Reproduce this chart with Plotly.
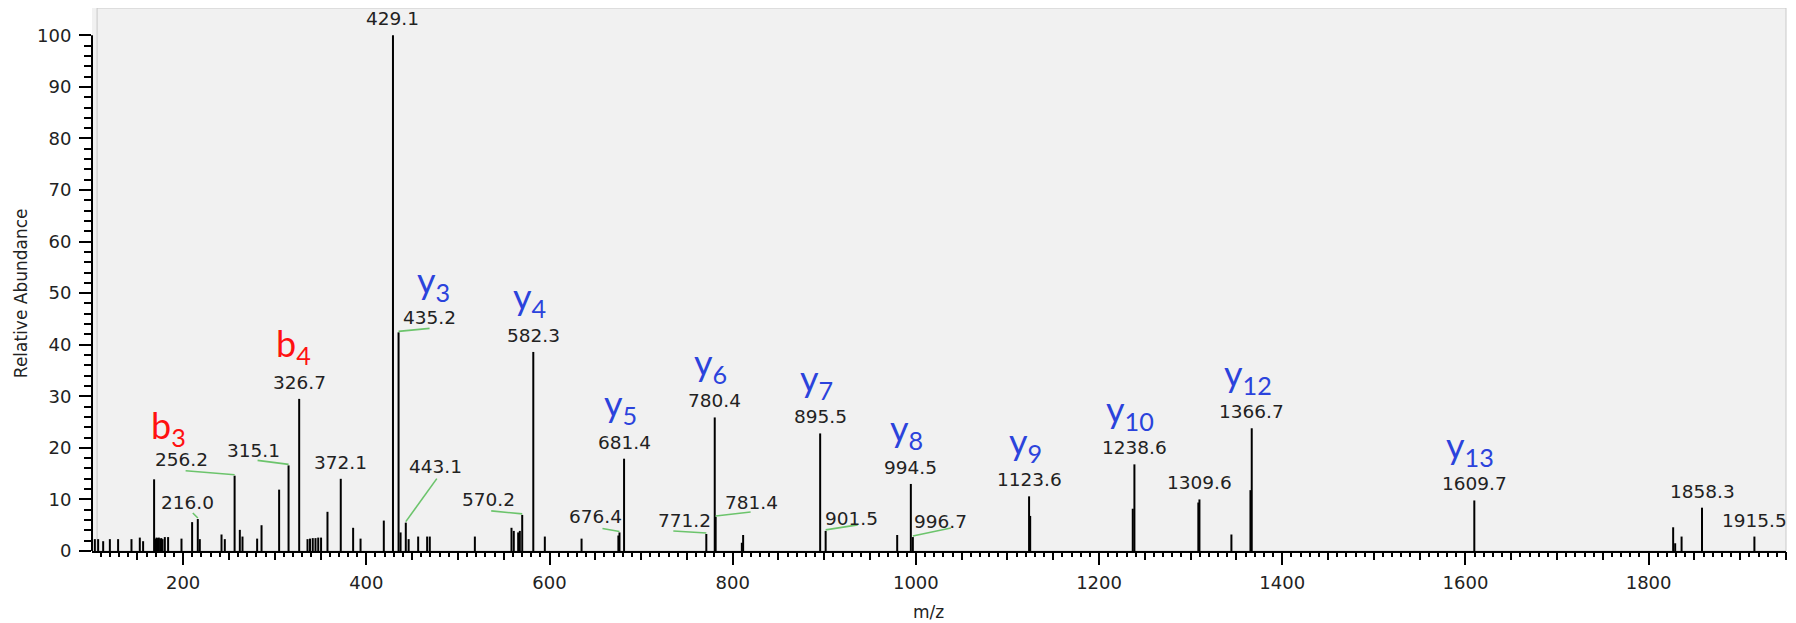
import plotly.graph_objects as go

# ---------------- data ----------------
mz = [103.6, 107.2, 112.7, 120.0, 129.0, 143.6, 152.7, 156.3, 168.3, 169.8,
      171.0, 172.3, 173.5, 175.0, 176.2, 177.5, 180.0, 183.6, 198.2, 209.8,
      216.0, 218.2, 241.9, 245.5, 256.2, 261.9, 264.8, 280.8, 285.6, 304.8,
      315.1, 326.7, 335.8, 338.5, 341.5, 344.5, 347.5, 350.6, 357.6, 372.1,
      385.6, 393.7, 419.1, 429.1, 435.2, 437.4, 443.1, 446.2, 456.6, 466.4,
      469.3, 518.5, 558.5, 561.0, 565.8, 567.6, 570.2, 582.3, 594.9, 635.0,
      675.2, 676.4, 681.4, 771.2, 780.4, 781.4, 810.0, 811.4, 895.5, 901.5,
      979.6, 994.5, 996.7, 1123.6, 1124.8, 1236.8, 1238.6, 1308.4, 1309.6, 1344.5,
      1365.3, 1366.7, 1609.7, 1826.8, 1829.0, 1836.0, 1858.3, 1915.5]
abundance = [2.3, 2.3, 1.9, 2.3, 2.3, 2.3, 2.6, 1.9, 13.9, 2.4,
             2.6, 2.5, 2.6, 2.4, 2.5, 2.3, 2.7, 2.7, 2.4, 5.6,
             6.2, 2.3, 3.2, 2.3, 14.6, 4.1, 2.8, 2.4, 5.0, 11.9,
             16.6, 29.5, 2.3, 2.4, 2.5, 2.5, 2.6, 2.6, 7.6, 14.0,
             4.5, 2.4, 5.9, 100.0, 42.4, 3.6, 5.5, 2.3, 2.8, 2.8,
             2.8, 2.8, 4.5, 3.9, 3.6, 3.9, 7.0, 38.6, 2.8, 2.4,
             3.0, 3.6, 17.9, 3.3, 25.9, 6.6, 1.6, 3.1, 22.8, 3.9,
             3.1, 13.0, 2.7, 10.6, 6.8, 8.2, 16.8, 9.4, 10.0, 3.2,
             11.8, 23.8, 9.8, 4.6, 1.5, 2.8, 8.4, 2.8]

labelled_peaks = [216.0, 256.2, 315.1, 326.7, 372.1, 429.1, 435.2, 443.1, 570.2,
                  582.3, 676.4, 681.4, 771.2, 780.4, 781.4, 895.5, 901.5, 994.5,
                  996.7, 1123.6, 1238.6, 1309.6, 1366.7, 1609.7, 1858.3, 1915.5]

ion_series = ["b", "b", "y", "y", "y", "y", "y", "y", "y", "y", "y", "y"]
ion_number = [3, 4, 3, 4, 5, 6, 7, 8, 9, 10, 12, 13]
ion_peak = [256.2, 326.7, 435.2, 582.3, 681.4, 780.4, 895.5, 994.5, 1123.6,
            1238.6, 1366.7, 1609.7]

x_ticks = [200, 400, 600, 800, 1000, 1200, 1400, 1600, 1800]

# ---------------- layout / style settings ----------------
PAGE_OFFSET = 8                      # default body margin of the html page
W, H = 1796 - PAGE_OFFSET, 623 - PAGE_OFFSET
ML, MR, MT, MB = 92 - PAGE_OFFSET, 10, 8 - PAGE_OFFSET, 72
X_RANGE = [100.5, 1950.0]
Y_RANGE = [0, 105.3]

TEXT_FONT = "DejaVu Sans"
ION_FONT = "Lato"
ION_COLORS = {"b": "#ff1111", "y": "#2b43dc"}
LEADER_COLOR = "#6cc46c"

# label offsets for crowded peaks: (dx px, up px, leader end dx, leader end up)
label_offsets = {
    216.0: (-10, 17, -5, 6),
    256.2: (-53, 16, -49, 5),
    315.1: (-35, 15, -31, 5),
    435.2: (31, 15, 31, 4),
    443.1: (30, 56, 31, 44),
    570.2: (-34, 15, -31, 4),
    676.4: (-24, 16, -17, 4),
    771.2: (-22, 13, -33, 3),
    781.4: (36, 14, 35, 5),
    901.5: (26, 12, 32, 6),
    996.7: (28, 16, 38, 9),
}
DEFAULT_UP = 16.5
ion_offsets = {"b3": (-66, 48), "b4": (-6, 53), "y3": (35, 50)}
ION_DEFAULT = (-4, 53)

height_of = dict(zip(mz, abundance))

# ---------------- sticks ----------------
xs, ys = [], []
for m, a in zip(mz, abundance):
    xs += [m, m, None]
    ys += [0, a, None]

fig = go.Figure()
fig.add_trace(go.Scatter(x=xs, y=ys, mode="lines",
                         line=dict(color="black", width=2),
                         hoverinfo="skip", showlegend=False))
# helper trace so the overlay axis (50-unit ticks) is drawn
fig.add_trace(go.Scatter(x=[], y=[], xaxis="x2", yaxis="y", showlegend=False))

annotations = []
shapes = []

for m in labelled_peaks:
    h = height_of[m]
    dx, up, lx, ly = label_offsets.get(m, (0, DEFAULT_UP, None, None))
    annotations.append(dict(x=m, y=h, xref="x", yref="y", text=f"{m:.1f}",
                            showarrow=False, xshift=dx, yshift=up,
                            xanchor="center", yanchor="middle",
                            font=dict(family=TEXT_FONT, size=18.5, color="#222222")))
    if lx is not None:
        shapes.append(dict(type="line", xref="x", yref="y",
                           xsizemode="pixel", ysizemode="pixel",
                           xanchor=m, yanchor=h, x0=0, x1=lx, y0=1, y1=ly,
                           line=dict(color=LEADER_COLOR, width=1.6)))

for s, n, p in zip(ion_series, ion_number, ion_peak):
    key = f"{s}{n}"
    dx, up = ion_offsets.get(key, ION_DEFAULT)
    annotations.append(dict(x=p, y=height_of[p], xref="x", yref="y",
                            text=f"{s}<sub>{n}</sub>", showarrow=False,
                            xshift=dx, yshift=up, xanchor="center", yanchor="middle",
                            font=dict(family=ION_FONT, size=36, color=ION_COLORS[s])))

plot_w = W - ML - MR
plot_h = H - MT - MB

# axis titles (positions given in page pixels)
annotations.append(dict(x=(21 - 92) / plot_w, y=50, xref="paper", yref="y",
                        text="Relative Abundance", textangle=-90, showarrow=False,
                        xanchor="center", yanchor="middle",
                        font=dict(family=TEXT_FONT, size=17, color="#222222")))
annotations.append(dict(x=(928 - 92) / plot_w, y=0, xref="paper", yref="paper",
                        text="m/z", showarrow=False, yshift=-61,
                        xanchor="center", yanchor="middle",
                        font=dict(family=TEXT_FONT, size=17, color="#222222")))

# y axis line from 0 to 100 only
shapes.append(dict(type="line", xref="paper", yref="y", x0=0, x1=0, y0=0, y1=100,
                   line=dict(color="black", width=2)))
# light border around the plotting panel
shapes.append(dict(type="rect", xref="paper", yref="paper", x0=0.003, x1=1, y0=0, y1=1,
                   line=dict(color="#c9c9c9", width=1), layer="below"))

tick_font = dict(family=TEXT_FONT, size=18, color="#222222")

fig.update_layout(
    width=W, height=H,
    margin=dict(l=ML, r=MR, t=MT, b=MB, autoexpand=False),
    paper_bgcolor="white", plot_bgcolor="#f1f1f1",
    showlegend=False,
    annotations=annotations, shapes=shapes,
    xaxis=dict(range=X_RANGE, tickvals=x_ticks, ticks="outside", ticklen=12,
               tickwidth=2, tickcolor="black", tickfont=tick_font,
               showline=True, linecolor="black", linewidth=2,
               showgrid=False, zeroline=False, ticklabelstandoff=2, automargin=False,
               minor=dict(dtick=10, tick0=0, ticks="outside", ticklen=4,
                          tickwidth=1.5, tickcolor="black", showgrid=False)),
    xaxis2=dict(overlaying="x", matches="x", anchor="y", side="bottom",
                tickvals=list(range(150, 1951, 50)), ticks="outside", ticklen=8,
                tickwidth=2, tickcolor="black", showticklabels=False, automargin=False,
                showline=False, showgrid=False, zeroline=False),
    yaxis=dict(range=Y_RANGE, tickvals=list(range(0, 101, 10)), ticks="outside",
               ticklen=12, tickwidth=2, tickcolor="black", tickfont=tick_font,
               showline=False, showgrid=False, zeroline=False, ticklabelstandoff=4,
               automargin=False,
               minor=dict(tickvals=list(range(0, 101, 2)), ticks="outside", ticklen=7,
                          tickwidth=1.5, tickcolor="black", showgrid=False)),
)

fig.write_html("out.html")
